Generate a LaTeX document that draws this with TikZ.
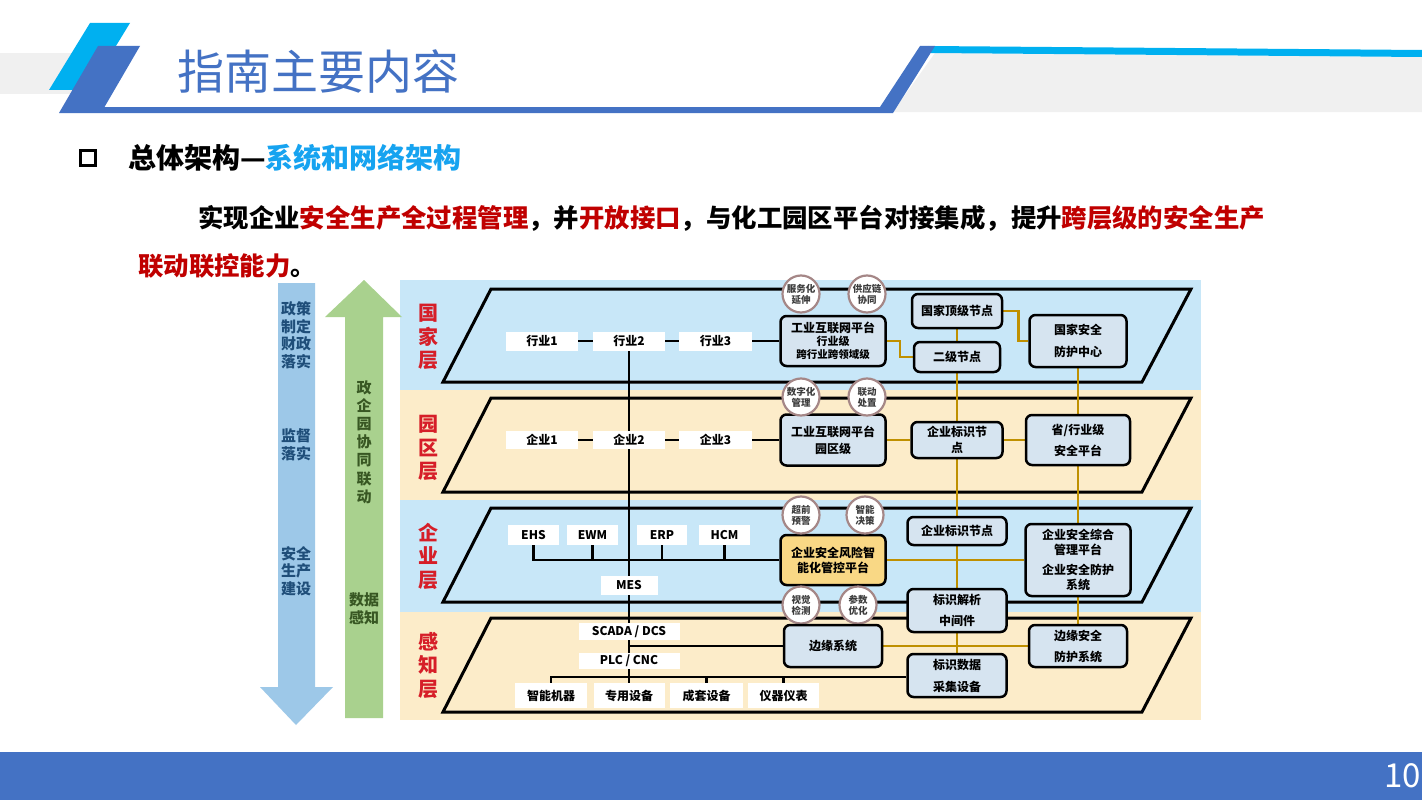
\documentclass[tikz,border=0pt]{standalone}
\usepackage{fontspec}
\setmainfont{Noto Sans CJK SC}
\definecolor{bluec}{RGB}{68,114,196}
\definecolor{cyanc}{RGB}{0,176,240}
\definecolor{grayband}{RGB}{240,240,240}
\definecolor{titlecyan}{RGB}{22,163,240}
\definecolor{darkred}{RGB}{192,0,0}
\definecolor{layerred}{RGB}{214,30,40}
\definecolor{bandblue}{RGB}{200,231,248}
\definecolor{bandyellow}{RGB}{252,236,201}
\definecolor{boxblue}{RGB}{214,228,240}
\definecolor{boxgold}{RGB}{249,216,133}
\definecolor{goldc}{RGB}{191,144,0}
\definecolor{circbrown}{RGB}{165,135,135}
\definecolor{circtext}{RGB}{60,60,60}
\definecolor{arrowblue}{RGB}{157,200,232}
\definecolor{arrowgreen}{RGB}{169,209,142}
\definecolor{navytext}{RGB}{31,78,121}
\definecolor{greentext}{RGB}{56,87,35}
\pgfdeclarelayer{bg}
\pgfdeclarelayer{lines}
\pgfsetlayers{bg,lines,main}
\tikzset{
  txt/.style={font=\bfseries\fontsize{12}{14}\selectfont, align=center, inner sep=0pt},
  wbox/.style={txt, fill=white},
  bbox/.style={txt, draw=black, line width=2.5pt, rounded corners=6pt, fill=boxblue},
  circ/.style={circle, draw=circbrown, line width=2.2pt, fill=white, minimum size=37pt, inner sep=0pt,
    font=\bfseries\fontsize{9.5}{11}\selectfont, align=center, text=circtext},
  blk/.style={line width=2.5pt, black},
  gold/.style={line width=2.5pt, goldc},
  plane/.style={line width=3pt, black, line join=miter},
  layerlbl/.style={text=layerred, font=\bfseries\fontsize{20}{23.5}\selectfont, align=center, inner sep=0pt},
  arrowtxt/.style={font=\bfseries\fontsize{15}{17.5}\selectfont, align=center, inner sep=0pt},
}
\begin{document}
\begin{tikzpicture}[x=1pt, y=-1pt]
\useasboundingbox (0,0) rectangle (1422,800);

% ---------- bands & planes ----------
\begin{pgfonlayer}{bg}
\fill[white] (0,0) rectangle (1422,800);
\fill[bandblue] (400,280) rectangle (1201,390);
\fill[bandyellow] (400,390) rectangle (1201,500);
\fill[bandblue] (400,500) rectangle (1201,612);
\fill[bandyellow] (400,612) rectangle (1201,720);
\draw[plane] (491,289) -- (1191,289) -- (1142,382) -- (443,382) -- cycle;
\draw[plane] (491,398) -- (1191,398) -- (1142,492) -- (443,492) -- cycle;
\draw[plane] (491,508) -- (1191,508) -- (1142,602) -- (443,602) -- cycle;
\draw[plane] (491,618) -- (1191,618) -- (1142,712) -- (443,712) -- cycle;
\end{pgfonlayer}

% ---------- header ----------
\fill[grayband] (0,53) rectangle (80,94);
\fill[grayband] (935,53) -- (1422,57) -- (1422,112) -- (893,112) -- cycle;
\fill[cyanc] (90,23) -- (130,23) -- (89,90) -- (49,90) -- cycle;
\fill[cyanc] (928,46) -- (1422,50) -- (1422,57) -- (931,53) -- cycle;
\fill[bluec] (98,46) -- (140,46) -- (104.5,107) -- (880,107) -- (920,46) -- (935,46)
  -- (893,113) -- (59,113) -- cycle;
\node[text=bluec, font=\fontsize{47}{50}\selectfont, inner sep=0pt] (title) at (318,72) {指南主要内容};

% bullet line
\node[draw=black, line width=3pt, minimum size=15pt, inner sep=0pt] (bullet) at (88,158) {};
\node[anchor=west, font=\bfseries\fontsize{28}{30}\selectfont, inner sep=0pt] (sub) at (128,158)
  {总体架构—\textcolor{titlecyan}{系统和网络架构}};

\node[anchor=west, font=\bfseries\fontsize{25.4}{30}\selectfont, inner sep=0pt] (line1) at (198,218)
  {实现企业\textcolor{darkred}{安全生产全过程管理}，并\textcolor{darkred}{开放接口}，与化工园区平台对接集成，提升\textcolor{darkred}{跨层级的安全生产}};
\node[anchor=west, font=\bfseries\fontsize{25.4}{30}\selectfont, inner sep=0pt] (line2) at (138,266)
  {\textcolor{darkred}{联动联控能力}。};

% ---------- footer ----------
\fill[bluec] (0,752) rectangle (1422,800);
\node[anchor=east, text=white, font=\fontsize{33}{36}\selectfont, inner sep=0pt] (pnum) at (1421,776) {10};

% ---------- left arrows ----------
\fill[arrowblue] (278,283) -- (315,283) -- (315,687) -- (333,687) -- (296,725) -- (260,687) -- (278,687) -- cycle;
\fill[arrowgreen] (364,280) -- (402,317) -- (383,317) -- (383,718) -- (345,718) -- (345,317) -- (325,317) -- cycle;
\node[arrowtxt, text=navytext] (b1) at (296,335) {政策\\制定\\财政\\落实};
\node[arrowtxt, text=navytext] (b2) at (296,445) {监督\\落实};
\node[arrowtxt, text=navytext] (b3) at (296,571) {安全\\生产\\建设};
\node[arrowtxt, text=greentext, font=\bfseries\fontsize{15}{18.2}\selectfont] (g1) at (364,442) {政\\企\\园\\协\\同\\联\\动};
\node[arrowtxt, text=greentext] (g2) at (364,609) {数据\\感知};

\node[layerlbl] (L1) at (428,337) {国\\家\\层};
\node[layerlbl] (L2) at (428,448) {园\\区\\层};
\node[layerlbl] (L3) at (428,556) {企\\业\\层};
\node[layerlbl] (L4) at (428,665) {感\\知\\层};

% ---------- national layer ----------
\node[wbox, minimum width=72pt, minimum height=19pt] (h1) at (542,341) {行业1};
\node[wbox, minimum width=72pt, minimum height=19pt] (h2) at (629,341) {行业2};
\node[wbox, minimum width=73pt, minimum height=19pt] (h3) at (715.5,341) {行业3};
\node[bbox, minimum width=105pt, minimum height=50pt] (p1) at (833,341)
  {工业互联网平台\\[-1pt]{\fontsize{11}{13}\selectfont 行业级}\\[-1pt]{\fontsize{10.5}{12}\selectfont 跨行业跨领域级}};
\node[circ] (c1) at (801,294) {服务化\\延伸};
\node[circ] (c2) at (867,294) {供应链\\协同};
\node[bbox, minimum width=90pt, minimum height=34pt] (top) at (957,311) {国家顶级节点};
\node[bbox, minimum width=86pt, minimum height=30pt] (sec) at (957,357) {二级节点};
\node[bbox, minimum width=97pt, minimum height=52pt, font=\bfseries\fontsize{12}{22}\selectfont] (nsc) at (1078,341) {国家安全\\防护中心};

% ---------- park layer ----------
\node[wbox, minimum width=72pt, minimum height=18pt] (q1) at (542,440) {企业1};
\node[wbox, minimum width=72pt, minimum height=18pt] (q2) at (629,440) {企业2};
\node[wbox, minimum width=73pt, minimum height=18pt] (q3) at (715.5,440) {企业3};
\node[bbox, minimum width=105pt, minimum height=51pt, font=\bfseries\fontsize{12}{17}\selectfont] (p2) at (833,440) {工业互联网平台\\园区级};
\node[circ] (c3) at (801,397) {数字化\\管理};
\node[circ] (c4) at (867,397) {联动\\处置};
\node[bbox, minimum width=91pt, minimum height=36pt, font=\bfseries\fontsize{12}{16}\selectfont] (eid1) at (957,440) {企业标识节\\点};
\node[bbox, minimum width=104pt, minimum height=50pt, font=\bfseries\fontsize{12}{21}\selectfont] (prov) at (1078,440) {省/行业级\\安全平台};

% ---------- enterprise layer ----------
\node[wbox, minimum width=51pt, minimum height=20pt] (ehs) at (533.5,535) {EHS};
\node[wbox, minimum width=51pt, minimum height=20pt] (ewm) at (592.5,535) {EWM};
\node[wbox, minimum width=50pt, minimum height=20pt] (erp) at (662,535) {ERP};
\node[wbox, minimum width=51pt, minimum height=20pt] (hcm) at (724.5,535) {HCM};
\node[wbox, minimum width=57pt, minimum height=19pt] (mes) at (629,585.5) {MES};
\node[bbox, fill=boxgold, minimum width=105pt, minimum height=50pt, font=\bfseries\fontsize{12}{15}\selectfont] (risk) at (833,560) {企业安全风险智\\能化管控平台};
\node[circ] (c5) at (801,515) {超前\\预警};
\node[circ] (c6) at (865,515) {智能\\决策};
\node[circ] (c7) at (801,605) {视觉\\检测};
\node[circ] (c8) at (858,605) {参数\\优化};
\node[bbox, minimum width=99pt, minimum height=28pt] (eid2) at (957,531) {企业标识节点};
\node[bbox, minimum width=105pt, minimum height=72pt, font=\bfseries\fontsize{12}{15}\selectfont] (comp) at (1078,560)
  {企业安全综合\\管理平台\\[5pt]企业安全防护\\系统};
\node[bbox, minimum width=99pt, minimum height=43pt, font=\bfseries\fontsize{12}{21}\selectfont] (resolve) at (957,610.5) {标识解析\\中间件};

% ---------- perception layer ----------
\node[wbox, minimum width=101pt, minimum height=17pt] (scada) at (629,631.5) {SCADA / DCS};
\node[wbox, minimum width=101pt, minimum height=16pt] (plc) at (629,661) {PLC / CNC};
\node[wbox, minimum width=72pt, minimum height=25pt] (d1) at (551,695.5) {智能机器};
\node[wbox, minimum width=71pt, minimum height=25pt] (d2) at (629,695.5) {专用设备};
\node[wbox, minimum width=73pt, minimum height=25pt] (d3) at (706.5,695.5) {成套设备};
\node[wbox, minimum width=71pt, minimum height=25pt] (d4) at (783.5,695.5) {仪器仪表};
\node[bbox, minimum width=98pt, minimum height=42pt] (edge) at (833,646) {边缘系统};
\node[bbox, minimum width=99pt, minimum height=43pt, font=\bfseries\fontsize{12}{22}\selectfont] (collect) at (957,675.5) {标识数据\\采集设备};
\node[bbox, minimum width=98pt, minimum height=42pt, font=\bfseries\fontsize{12}{21}\selectfont] (esec) at (1078,646) {边缘安全\\防护系统};

% ---------- connectors ----------
\begin{pgfonlayer}{lines}
% black
\draw[blk] (h1.east) -- (h2.west);
\draw[blk] (h2.east) -- (h3.west);
\draw[blk] (h3.east) -- (p1.west);
\draw[blk] (q1.east) -- (q2.west);
\draw[blk] (q2.east) -- (q3.west);
\draw[blk] (q3.east) -- (p2.west);
\draw[blk] (h2.south) -- (d2.north);
\draw[blk] (ehs.south) -- (ehs.south |- risk.west) -- (risk.west);
\draw[blk] (ewm.south) -- (ewm.south |- risk.west);
\draw[blk] (erp.south) -- (erp.south |- risk.west);
\draw[blk] (hcm.south) -- (hcm.south |- risk.west);
\draw[blk] (scada.south |- edge.west) -- (edge.west);
\draw[blk] (d1.north) -- (d1.north |- 0,677) -- (collect.west |- 0,677);
\draw[blk] (d3.north) -- (d3.north |- 0,677);
\draw[blk] (d4.north) -- (d4.north |- 0,677);
% gold
\draw[gold] (p1.east) -- ++(13,0) |- (sec.west);
\draw[gold] (top.east) -- ++(15,0) |- (nsc.west);
\draw[gold] (top.south) -- (sec.north);
\draw[gold] (sec.south) -- (eid1.north);
\draw[gold] (nsc.south) -- (prov.north);
\draw[gold] (p2.east) -- (eid1.west);
\draw[gold] (eid1.east) -- (prov.west);
\draw[gold] (eid1.south) -- (eid2.north);
\draw[gold] (prov.south) -- (comp.north);
\draw[gold] (risk.east) -- (comp.west);
\draw[gold] (eid2.south) -- (resolve.north);
\draw[gold] (resolve.south) -- (collect.north);
\draw[gold] (comp.south) -- (esec.north);
\draw[gold] (edge.east) -- (esec.west);
\end{pgfonlayer}
\end{tikzpicture}
\end{document}
